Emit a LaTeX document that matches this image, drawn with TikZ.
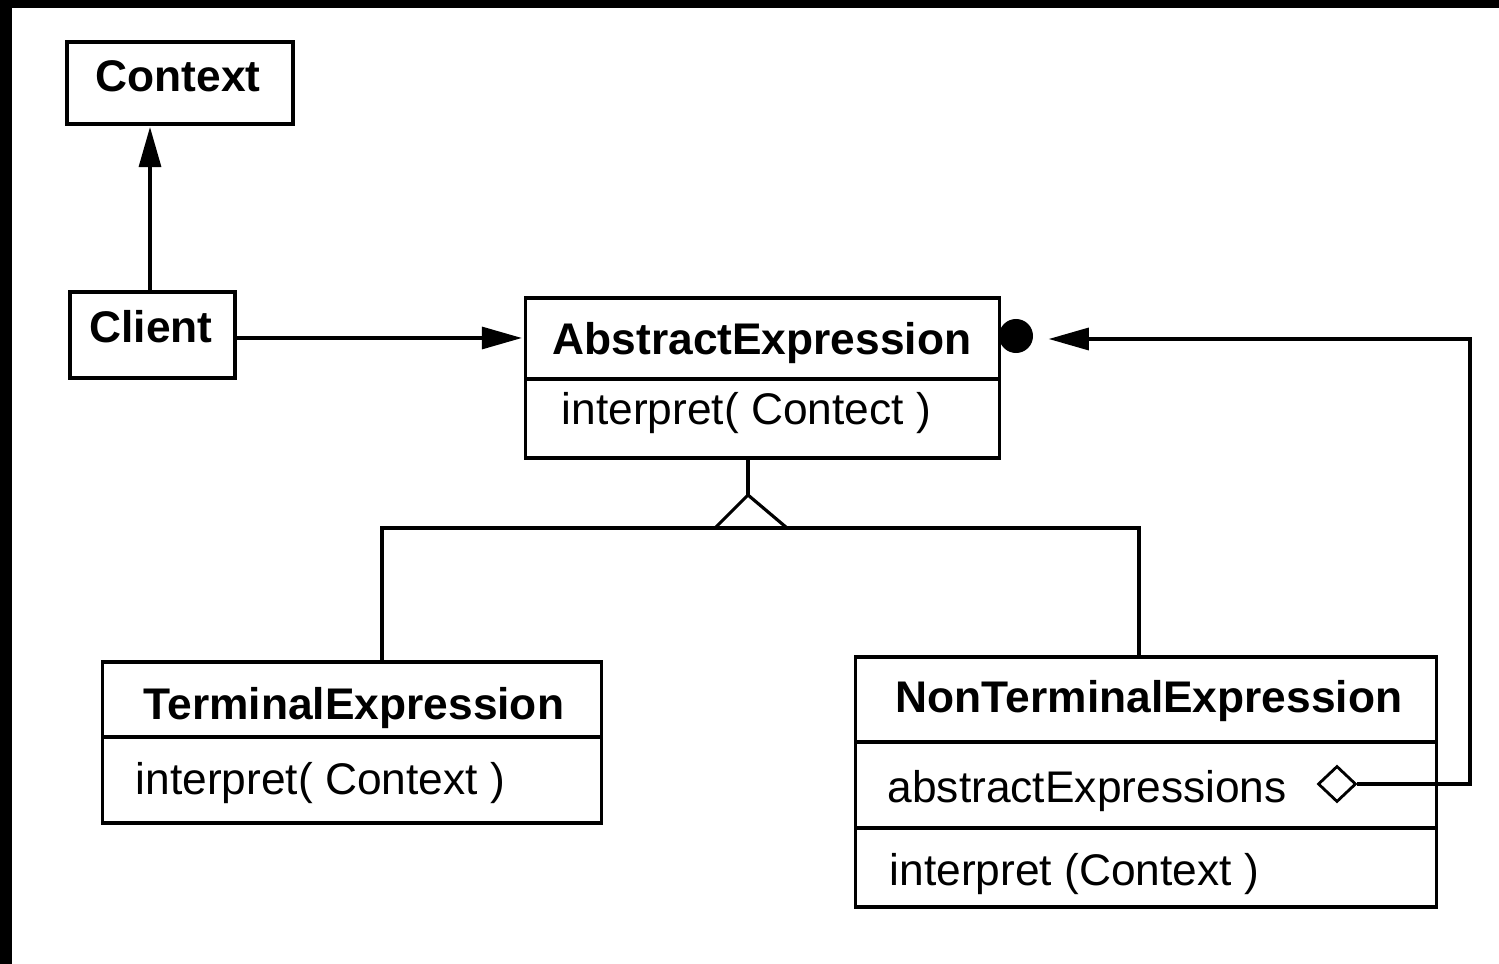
\documentclass[tikz,border=0pt]{standalone}
\usepackage{fontspec}
\setmainfont{Liberation Sans}
\usetikzlibrary{arrows.meta,shapes.geometric}
\begin{document}
\begin{tikzpicture}[x=0.01cm,y=-0.01cm,
  cls/.style={draw, line width=0.9pt, inner sep=0pt, outer sep=0pt},
  ttl/.style={font=\fontsize{12.6}{14}\selectfont\bfseries, anchor=base, inner sep=0pt},
  op/.style={font=\fontsize{12.6}{14}\selectfont, anchor=base west, inner sep=0pt},
  conn/.style={line width=0.9pt},
  headtip/.style={-{Triangle[length=0.4cm,width=0.22cm]}},
]
\useasboundingbox (0,0) rectangle (1499,964);
\fill[white] (0,0) rectangle (1499,964);
\fill[black] (0,0) rectangle (12,964);
\fill[black] (0,0) rectangle (1499,8);

% class boxes
\node[cls, minimum width=2.26cm, minimum height=0.82cm] (context) at (180,83) {};
\node[cls, minimum width=1.65cm, minimum height=0.86cm] (client) at (152.5,335) {};
\node[cls, minimum width=4.73cm, minimum height=1.60cm] (ae) at (762.5,378) {};
\node[cls, minimum width=4.98cm, minimum height=1.61cm] (term) at (352,742.5) {};
\node[cls, minimum width=5.80cm, minimum height=2.50cm] (nt) at (1146,782) {};

% compartments
\draw[conn] ([yshift=-0.81cm]ae.north west) -- ([yshift=-0.81cm]ae.north east);
\draw[conn] ([yshift=-0.75cm]term.north west) -- ([yshift=-0.75cm]term.north east);
\draw[conn] ([yshift=-0.85cm]nt.north west) -- ([yshift=-0.85cm]nt.north east);
\draw[conn] ([yshift=-1.71cm]nt.north west) -- ([yshift=-1.71cm]nt.north east);

% texts
\node[ttl] (contextT) at (178,92) {Context};
\node[ttl] (clientT) at (151,343) {Client};
\node[ttl] (aeT) at (762,355) {AbstractExpression};
\node[op] (aeOp) at (561,425) {interpret( Contect )};
\node[ttl] (termT) at (354,720) {TerminalExpression};
\node[op] (termOp) at (135,795) {interpret( Context )};
\node[ttl] (ntT) at (1149,713) {NonTerminalExpression};
\node[op] (ntAttr) at (887,803) {abstractExpressions};
\node[op] (ntOp) at (889,886) {interpret (Context )};

% association Client -> Context
\coordinate (cx) at (150,0);
\draw[conn, headtip, shorten >=0.03cm] (client.north -| cx) -- (context.south -| cx);

% association Client -> AbstractExpression
\coordinate (cy) at (0,338);
\draw[conn, headtip, shorten >=0.04cm] (client.east |- cy) -- (ae.west |- cy);

% aggregation NonTerminalExpression -> AbstractExpression
\node[circle, fill=black, minimum size=0.34cm, inner sep=0pt] (dot) at (1016,336) {};
\node[diamond, draw, line width=0.8pt, minimum width=0.38cm, minimum height=0.36cm, inner sep=0pt] (dia) at (1337,784) {};
\coordinate (r1) at (1470,339);
\coordinate (r2) at (1470,784);
\draw[conn, headtip, shorten >=0.15cm] (dia.east) -- (r2) -- (r1) -- (r1 -| dot.east);

% inheritance
\coordinate (apex) at (748,495);
\coordinate (bl) at (715,528);
\coordinate (br) at (787,528);
\coordinate (busL) at (382,528);
\coordinate (busR) at (1139,528);
\draw[conn] (ae.south -| apex) -- (apex);
\draw[conn] (apex) -- (bl) -- (br) -- cycle;
\draw[conn] (term.north -| busL) -- (busL) -- (busR) -- (nt.north -| busR);
\draw[line width=1.4pt] (bl) -- (br);
\end{tikzpicture}
\end{document}
